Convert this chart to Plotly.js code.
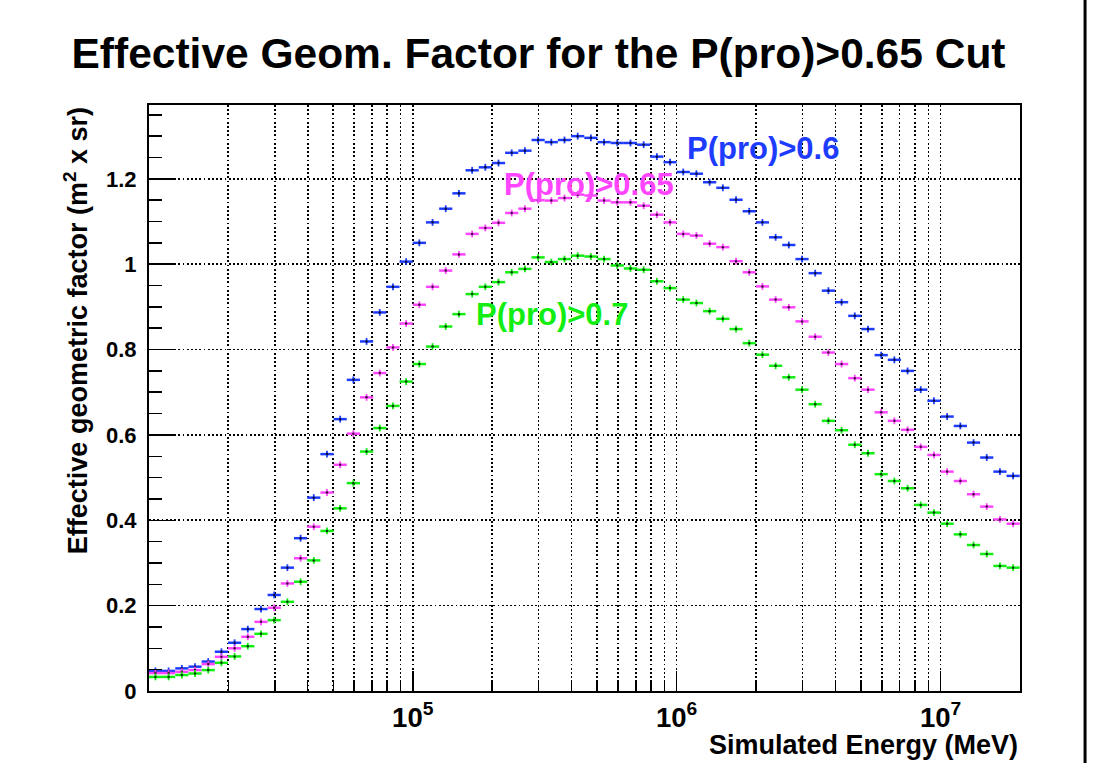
<!DOCTYPE html>
<html>
<head>
<meta charset="utf-8">
<script src="https://cdn.plot.ly/plotly-3.0.1.min.js"></script>
<style>html,body{margin:0;padding:0;background:#fff;}#chart{width:1099px;height:763px;}</style>
</head>
<body>
<div id="chart"></div>
<script>
// Histogram binning: 66 log-uniform bins from 1e4 to 10^7.3 MeV
const logEmin = 4.0;
const logEmax = 7.3;
const nBins = 66;

// Effective geometric factor (m^2 x sr) per bin
const effP060 = [0.047,0.047,0.053,0.057,0.069,0.092,0.113,0.145,0.192,0.225,
  0.289,0.358,0.453,0.555,0.637,0.729,0.819,0.887,0.947,1.006,
  1.050,1.098,1.130,1.166,1.220,1.227,1.237,1.261,1.266,1.291,
  1.286,1.291,1.300,1.296,1.286,1.284,1.284,1.280,1.252,1.239,
  1.216,1.212,1.192,1.179,1.151,1.124,1.098,1.063,1.045,1.012,
  0.979,0.938,0.911,0.879,0.848,0.787,0.776,0.750,0.706,0.680,
  0.643,0.621,0.582,0.547,0.514,0.504];
const effP065 = [0.042,0.042,0.045,0.049,0.063,0.080,0.100,0.127,0.162,0.195,
  0.252,0.311,0.385,0.465,0.530,0.603,0.688,0.745,0.805,0.861,
  0.905,0.947,0.985,1.023,1.071,1.085,1.097,1.120,1.130,1.150,
  1.149,1.155,1.163,1.161,1.149,1.145,1.145,1.137,1.116,1.098,
  1.071,1.067,1.048,1.040,1.007,0.981,0.948,0.917,0.899,0.866,
  0.830,0.793,0.766,0.733,0.706,0.653,0.633,0.612,0.572,0.553,
  0.514,0.492,0.461,0.432,0.402,0.392];
const effP070 = [0.033,0.033,0.0375,0.041,0.049,0.066,0.081,0.105,0.134,0.166,
  0.209,0.256,0.306,0.375,0.428,0.487,0.561,0.616,0.668,0.725,
  0.766,0.807,0.854,0.883,0.930,0.947,0.958,0.981,0.989,1.016,
  1.005,1.012,1.020,1.018,1.012,0.997,0.990,0.987,0.960,0.944,
  0.917,0.909,0.890,0.872,0.848,0.815,0.788,0.762,0.735,0.706,
  0.672,0.633,0.611,0.577,0.557,0.508,0.492,0.475,0.436,0.418,
  0.392,0.367,0.342,0.321,0.293,0.289];
const statErr = 0.008;

const seriesNames = ['P(pro)>0.6', 'P(pro)>0.65', 'P(pro)>0.7'];
const seriesData = [effP060, effP065, effP070];
const seriesColors = ['#1e3cff', '#ff45ff', '#12ee12'];

const dLog = (logEmax - logEmin) / nBins;
const centers = [], errPlus = [], errMinus = [];
for (let i = 0; i < nBins; i++) {
  const lo = Math.pow(10, logEmin + i * dLog);
  const hi = Math.pow(10, logEmin + (i + 1) * dLog);
  const c = Math.pow(10, logEmin + (i + 0.5) * dLog);
  centers.push(c); errPlus.push(hi - c); errMinus.push(c - lo);
}

const traces = seriesData.map((ys, s) => ({
  type: 'scatter', mode: 'markers', name: seriesNames[s],
  x: centers, y: ys,
  marker: {size: 2.5, color: 'rgba(0,0,0,0.75)'},
  error_x: {type: 'data', symmetric: false, array: errPlus, arrayminus: errMinus,
            width: 0, thickness: 2.5, color: seriesColors[s]},
  error_y: {type: 'constant', value: statErr, width: 0, thickness: 1.8, color: seriesColors[s]},
  hoverinfo: 'x+y'
}));

const FONT = 'Liberation Sans, Arial, Helvetica, sans-serif';
const gridDash = '1.8px,2.4px';

const layout = {
  width: 1099, height: 763,
  paper_bgcolor: '#fff', plot_bgcolor: '#fff',
  margin: {l: 149, r: 79, t: 105, b: 72},
  showlegend: false,
  font: {family: FONT, color: '#000'},
  title: {text: 'Effective Geom. Factor for the P(pro)>0.65 Cut',
          font: {family: FONT, size: 42.5, weight: 'bold', color: '#000'},
          x: 0.49, xanchor: 'center', xref: 'container',
          y: 0.931, yanchor: 'middle', yref: 'container'},
  xaxis: {
    type: 'log', range: [logEmin + 0.0006, Math.log10(2e7)],
    dtick: 1, exponentformat: 'power',
    ticks: 'inside', ticklen: 20, tickwidth: 1.5, tickcolor: '#000',
    showgrid: true, gridcolor: '#000', gridwidth: 1.6, griddash: gridDash,
    minor: {dtick: 'D1', ticks: 'inside', ticklen: 9, tickwidth: 1.5, tickcolor: '#000',
            showgrid: true, gridcolor: '#000', gridwidth: 1.6, griddash: gridDash},
    showline: true, linecolor: '#000', linewidth: 2, mirror: true,
    zeroline: false,
    tickfont: {family: FONT, size: 22, weight: 'bold', color: '#000'},
    ticklabelstandoff: 2
  },
  yaxis: {
    range: [0, 1.373], dtick: 0.2, tick0: 0,
    ticks: 'inside', ticklen: 26, tickwidth: 1.5, tickcolor: '#000',
    showgrid: true, gridcolor: '#000', gridwidth: 1.6, griddash: gridDash,
    minor: {dtick: 0.05, ticks: 'inside', ticklen: 13, tickwidth: 1.5, tickcolor: '#000', showgrid: false},
    showline: true, linecolor: '#000', linewidth: 2, mirror: true,
    zeroline: false,
    tickfont: {family: FONT, size: 22, weight: 'bold', color: '#000'},
    ticklabelstandoff: 6
  },
  annotations: [
    {text: 'Simulated Energy (MeV)', xref: 'paper', yref: 'paper', x: 1, y: -0.092,
     xanchor: 'right', yanchor: 'middle', showarrow: false,
     font: {family: FONT, size: 27, weight: 'bold', color: '#000'}},
    {text: 'Effective geometric factor (m<sup>2</sup> x sr)', xref: 'paper', yref: 'paper',
     x: -0.0842, y: 1.0, xanchor: 'center', yanchor: 'top', textangle: -90, showarrow: false,
     font: {family: FONT, size: 27, weight: 'bold', color: '#000'}},
    {text: seriesNames[0], xref: 'paper', yref: 'paper', x: 0.7054, y: 0.9256,
     xanchor: 'center', yanchor: 'middle', showarrow: false,
     font: {family: FONT, size: 31, weight: 'bold', color: seriesColors[0]}},
    {text: seriesNames[1], xref: 'paper', yref: 'paper', x: 0.505, y: 0.8638,
     xanchor: 'center', yanchor: 'middle', showarrow: false,
     font: {family: FONT, size: 31, weight: 'bold', color: seriesColors[1]}},
    {text: seriesNames[2], xref: 'paper', yref: 'paper', x: 0.463, y: 0.6428,
     xanchor: 'center', yanchor: 'middle', showarrow: false,
     font: {family: FONT, size: 31, weight: 'bold', color: seriesColors[2]}}
  ],
  shapes: [
    {type: 'line', xref: 'paper', yref: 'paper', x0: 1.0747, x1: 1.0747, y0: -0.13, y1: 1.19,
     line: {color: '#000', width: 3}}
  ]
};

Plotly.newPlot('chart', traces, layout, {displayModeBar: false, staticPlot: true});
</script>
</body>
</html>
